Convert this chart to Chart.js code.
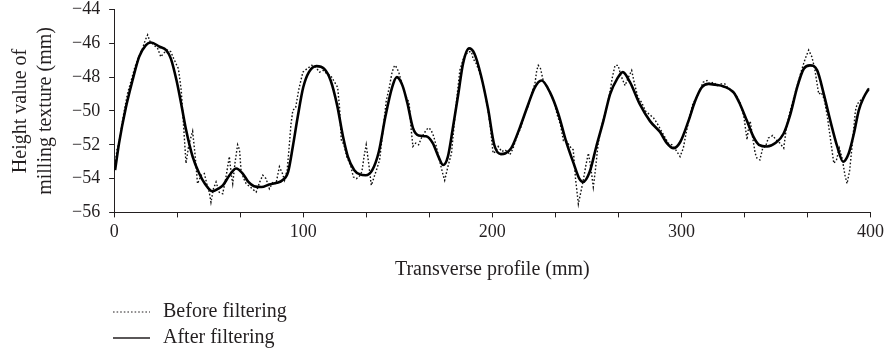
<!DOCTYPE html>
<html>
<head>
<meta charset="utf-8">
<script src="https://cdn.jsdelivr.net/npm/chart.js@4.4.1/dist/chart.umd.min.js"></script>
<style>
  html, body { margin: 0; padding: 0; background: #fff; }
  #wrap { width: 888px; height: 355px; position: relative; }
</style>
</head>
<body>
<div id="wrap"><canvas id="profileChart"></canvas></div>
<script>
// Filtered profile (solid line)
const afterX = [0.5, 2.6, 6.2, 9.7, 13.2, 16.8, 19.5, 24, 27.5, 30, 33, 35.5, 38, 41.5, 45, 48, 52, 55, 57.5, 61,
  64.5, 68, 71, 74, 78, 82, 86, 89, 92, 94.5, 97, 100, 103, 107, 111, 114.5, 118, 121, 123.6, 127,
  130, 133, 136.5, 140, 143.5, 147, 149.5, 152.5, 155, 158, 161, 165, 168.5, 171.5, 174, 176.5, 179, 182, 184.5, 187.7,
  190.5, 194, 197.8, 201, 204.5, 207, 210, 214.5, 219, 222.5, 226, 230.5, 235, 239, 243, 246, 248, 251.5, 255, 258.7,
  262.3, 266, 269, 272.8, 278, 283.4, 288.7, 292.3, 295.8, 299.3, 303.7, 307.3, 310.8, 314.3, 318, 322.3, 327.6, 331, 334.7, 338.2,
  341, 345.3, 349.7, 354, 357.6, 361.2, 364.7, 368, 371.8, 375.3, 378.8, 382.4, 385.5, 388.5, 391.2, 393.8, 396.4, 399];
const afterY = [-53.5, -51.9, -49.8, -48.2, -46.8, -46.1, -45.95, -46.2, -46.4, -46.9, -48.2, -49.6, -51.1, -52.7, -53.7, -54.3, -54.75, -54.6, -54.4, -53.8,
  -53.4, -53.7, -54.2, -54.45, -54.5, -54.35, -54.25, -54.1, -53.6, -52.1, -50.4, -48.6, -47.7, -47.35, -47.5, -48.2, -49.7, -51.5, -52.7, -53.5,
  -53.75, -53.8, -53.5, -52.4, -50.3, -48.6, -48.0, -48.5, -49.5, -51.0, -51.45, -51.5, -51.9, -52.7, -53.2, -52.7, -51.1, -49.0, -47.2, -46.3,
  -46.6, -47.9, -49.9, -52.0, -52.55, -52.5, -52.2, -51.0, -49.6, -48.6, -48.2, -48.9, -50.2, -51.8, -53.1, -54.0, -54.2, -53.6, -52.1, -50.6,
  -49.0, -48.1, -47.7, -48.3, -49.6, -50.6, -51.25, -51.9, -52.2, -51.85, -50.6, -49.4, -48.6, -48.4, -48.45, -48.55, -48.9, -49.6, -50.6, -51.55,
  -52.0, -52.1, -51.9, -51.35, -50.2, -48.6, -47.5, -47.3, -47.6, -49.0, -50.6, -52.1, -53.0, -52.5, -51.35, -49.96, -49.2, -48.7];

// Raw profile (dotted line)
const beforeX = [0, 1.5, 3, 5, 7, 9, 11, 13, 15, 16.5, 17.7, 19, 21, 23, 24.7, 26, 28.2, 30, 31.5, 32.7,
  34, 35.5, 36.5, 38, 39.5, 41.5, 42.8, 44.1, 46, 47.7, 49, 50.3, 51.2, 52.5, 53.9, 55.5, 57.4, 59, 60.9, 62,
  62.7, 64, 65.3, 66.3, 67.1, 68.5, 69.8, 72, 75.1, 77, 78.6, 80.3, 82.1, 84, 85.6, 87.4, 89, 90.1, 91.5, 92.5,
  93.5, 94.5, 96, 97.5, 99.8, 102, 104.5, 106.5, 108.6, 110.5, 112.5, 114.5, 116.6, 118.2, 119.2, 120.1, 121.5, 123, 125, 126.5,
  128, 129.5, 131, 132.3, 133.3, 134.5, 136, 137.5, 139, 140.4, 142, 143.9, 145.5, 147, 148.3, 149.2, 150.5, 152, 154.5, 156,
  157, 158, 159.5, 161, 162.5, 164, 166, 167.5, 169, 170.4, 172, 174, 174.8, 176.5, 178.4, 180.5, 182.8, 185, 187.2, 189,
  189.8, 191.5, 193.5, 195.5, 197.5, 199, 200.4, 201.8, 203.1, 205, 206.6, 208, 209.3, 211, 213, 215, 217, 219, 221, 222.5,
  223.5, 224.3, 225.5, 226.9, 228.5, 230.5, 232.5, 234.5, 236, 237.6, 239.5, 241, 242.8, 244, 245.5, 246.8, 248.1, 249.5, 250.8, 252,
  253.4, 254.5, 256, 258, 260, 262, 263.5, 264.9, 266.5, 268, 270.2, 272, 273.7, 275, 277, 279, 281, 283, 285.2, 287,
  289, 291, 293, 295, 297, 299.3, 301, 302.5, 304, 306, 308, 310, 311.5, 313.5, 315, 317, 319, 321, 323, 325,
  327, 329, 331, 333, 334.7, 335.5, 336.4, 338, 339, 340, 341.5, 343, 344.5, 346, 348.3, 350, 352, 354.1, 355.5, 357.5,
  359.5, 361.5, 363.5, 365.5, 367.3, 369, 370.5, 372.6, 374, 375.5, 377, 378.5, 380.6, 382, 383.5, 385, 386.5, 387.6, 389, 390.5,
  392, 392.9, 394.5, 396.5, 398.2, 399.5];
const beforeY = [-53.6, -52.3, -51.6, -50.2, -49.0, -48.2, -47.4, -46.8, -46.3, -45.8, -45.5, -45.9, -46.1, -46.3, -46.8, -46.6, -46.4, -46.5, -46.9, -47.2,
  -47.5, -48.8, -50.5, -53.1, -52.0, -51.2, -52.6, -54.3, -53.8, -53.7, -54.3, -54.8, -55.4, -54.6, -54.2, -54.8, -54.9, -54.0, -52.7, -53.8,
  -54.3, -53.0, -52.0, -52.3, -53.5, -54.0, -54.3, -54.5, -54.8, -54.2, -53.8, -54.0, -54.6, -54.2, -54.3, -53.3, -53.7, -54.1, -53.5, -52.2,
  -50.8, -49.96, -49.8, -48.8, -47.7, -47.5, -47.3, -47.4, -47.7, -47.6, -47.8, -47.9, -48.3, -48.6, -49.8, -51.7, -52.0, -52.7, -53.2, -53.9,
  -54.0, -53.9, -53.6, -52.6, -52.0, -53.0, -54.4, -53.9, -53.4, -52.9, -51.3, -49.4, -48.6, -47.7, -47.3, -47.4, -47.7, -48.3, -49.2, -49.5,
  -51.0, -52.1, -51.9, -52.0, -51.6, -51.3, -51.0, -51.1, -51.5, -52.1, -52.9, -53.8, -54.1, -53.3, -52.5, -50.0, -47.6, -46.8, -46.5, -46.5,
  -46.9, -47.2, -47.8, -48.6, -49.8, -51.0, -52.5, -52.4, -52.1, -52.4, -52.3, -52.4, -52.6, -52.2, -51.5, -51.0, -50.2, -49.7, -48.9, -48.4,
  -47.6, -47.3, -47.5, -48.2, -48.5, -48.9, -49.4, -50.3, -50.8, -51.75, -51.8, -52.1, -52.3, -54.0, -55.5, -54.8, -54.1, -53.2, -52.5, -53.3,
  -54.5, -53.5, -51.9, -50.8, -50.0, -49.0, -48.0, -47.3, -47.3, -47.9, -48.5, -48.0, -47.6, -48.3, -49.2, -49.5, -50.0, -50.2, -50.4, -50.7,
  -51.1, -51.5, -51.9, -52.0, -52.3, -52.7, -52.2, -51.3, -50.5, -49.6, -49.2, -48.7, -48.3, -48.2, -48.4, -48.3, -48.5, -48.4, -48.4, -48.7,
  -48.8, -49.1, -49.5, -50.3, -51.7, -51.0, -50.6, -51.8, -52.5, -52.8, -52.9, -52.2, -52.1, -51.6, -51.45, -51.7, -51.9, -52.2, -51.0, -50.0,
  -49.2, -48.4, -47.6, -46.9, -46.4, -46.8, -47.5, -49.0, -48.9, -49.3, -50.2, -51.4, -53.1, -52.9, -52.2, -52.8, -53.8, -54.3, -53.5, -51.8,
  -50.0, -49.6, -49.4, -49.2, -48.8, -48.6];

const xTickLabels = [0, 100, 200, 300, 400];
const seriesNames = ['Before filtering', 'After filtering'];

const FONT = '"Liberation Serif", "Times New Roman", serif';
const INK = '#231f20';

const toPoints = (xs, ys) => xs.map((x, i) => ({ x: x, y: ys[i] }));

// Legend stacked under the axis title, as in the figure
const stackedLegend = {
  id: 'stackedLegend',
  afterDraw(chart) {
    const ctx = chart.ctx;
    const left = 113, lineLen = 37, textX = 163;
    const rows = [312, 338];
    ctx.save();
    ctx.font = '20px ' + FONT;
    ctx.fillStyle = INK;
    ctx.textBaseline = 'middle';
    chart.data.datasets.forEach((ds, i) => {
      const y = rows[i];
      ctx.beginPath();
      ctx.strokeStyle = INK;
      ctx.lineWidth = ds.legendWidth;
      ctx.setLineDash(ds.borderDash || []);
      ctx.moveTo(left, y);
      ctx.lineTo(left + lineLen, y);
      ctx.stroke();
      ctx.setLineDash([]);
      ctx.fillText(ds.label, textX, y);
    });
    ctx.restore();
  }
};

new Chart(document.getElementById('profileChart'), {
  type: 'line',
  data: {
    datasets: [{
      label: seriesNames[0],
      data: toPoints(beforeX, beforeY),
      borderColor: '#111',
      borderWidth: 1.4,
      borderDash: [1.6, 2],
      legendWidth: 1,
      pointRadius: 0,
      tension: 0,
      order: 1
    }, {
      label: seriesNames[1],
      data: toPoints(afterX, afterY),
      borderColor: '#000',
      borderWidth: 2.6,
      legendWidth: 1.5,
      pointRadius: 0,
      cubicInterpolationMode: 'monotone',
      order: 0
    }]
  },
  options: {
    responsive: true,
    maintainAspectRatio: false,
    animation: false,
    layout: { padding: { top: 0, right: 5, bottom: 73, left: 8 } },
    plugins: {
      legend: { display: false },
      tooltip: { enabled: false }
    },
    scales: {
      x: {
        type: 'linear',
        min: 0,
        max: 400,
        afterBuildTicks: (axis) => {
          axis.ticks = Array.from({ length: 13 }, (_, i) => ({ value: i * 400 / 12 }));
        },
        ticks: {
          autoSkip: false,
          maxRotation: 0,
          padding: 4,
          color: INK,
          font: { family: FONT, size: 18 },
          callback: (v) => {
            const r = Math.round(v);
            return Math.abs(v - r) < 1e-6 && xTickLabels.includes(r) ? String(r) : '';
          }
        },
        grid: { drawOnChartArea: false, drawTicks: true, tickLength: 5, color: INK },
        border: { display: true, color: INK, width: 1 },
        title: {
          display: true,
          text: 'Transverse profile (mm)',
          color: INK,
          font: { family: FONT, size: 20 },
          padding: { top: 11, bottom: 0 }
        }
      },
      y: {
        min: -56,
        max: -44,
        ticks: {
          stepSize: 2,
          padding: 9,
          color: INK,
          // small line height keeps the top label from pushing the plot down
          font: { family: FONT, size: 18, lineHeight: 0.06 },
          callback: (v) => (v < 0 ? '\u2212' : '') + Math.abs(v)
        },
        grid: { drawOnChartArea: false, drawTicks: true, tickLength: 5, color: INK },
        border: { display: true, color: INK, width: 1 },
        title: {
          display: true,
          text: ['Height value of', 'milling texture (mm)'],
          color: INK,
          font: { family: FONT, size: 20, lineHeight: 1.25 },
          padding: { top: 0, bottom: 5 }
        }
      }
    }
  },
  plugins: [stackedLegend]
});
</script>
</body>
</html>
